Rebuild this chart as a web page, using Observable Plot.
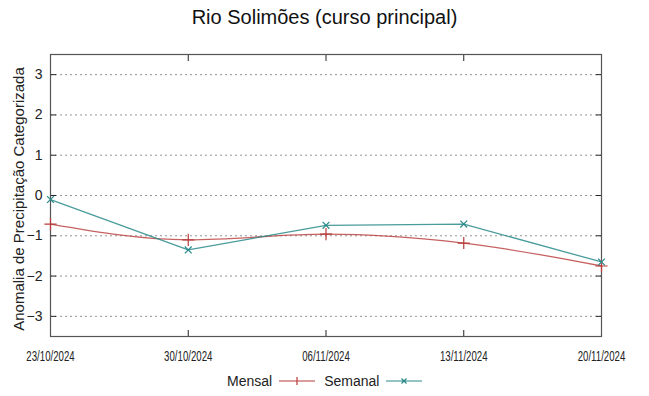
<!DOCTYPE html>
<html>
<head>
<meta charset="utf-8">
<script src="https://cdn.jsdelivr.net/npm/d3@7"></script>
<script src="https://cdn.jsdelivr.net/npm/@observablehq/plot@0.6"></script>
<style>
  body { margin: 0; background: #fff; font-family: "Liberation Sans", Arial, sans-serif; }
  #wrap { position: relative; width: 649px; height: 396px; overflow: hidden; }
  #title { position: absolute; left: 0; width: 649px; top: 6px; text-align: center; font-size: 20px; color: #111; }
  #ylab { position: absolute; left: 18px; top: 199px; font-size: 15px; color: #222; transform: translate(-50%, -50%) rotate(-90deg); white-space: nowrap; }
  #legend { position: absolute; top: 373px; left: 227px; font-size: 14px; color: #222; display: flex; align-items: center; }
  #legend svg { margin: 0 9px 0 7px; }
  #chart { position: absolute; left: 0; top: 0; }
</style>
</head>
<body>
<div id="wrap">
  <div id="chart"></div>
  <div id="title">Rio Solimões (curso principal)</div>
  <div id="ylab">Anomalia de Precipitação Categorizada</div>
  <div id="legend"></div>
</div>
<script>
const dates = ["2024-10-23", "2024-10-30", "2024-11-06", "2024-11-13", "2024-11-20"];
const mensal = [-0.71, -1.1, -0.96, -1.18, -1.75];
const semanal = [-0.1, -1.35, -0.74, -0.71, -1.65];
const yTicks = [-3, -2, -1, 0, 1, 2, 3];
const seriesNames = ["Mensal", "Semanal"];
const seriesColors = ["#b83a3a", "#2a8a8a"];

const parse = d3.utcParse("%Y-%m-%d");
const fmt = d3.utcFormat("%d/%m/%Y");
const X = dates.map(parse);
const mData = X.map((d, i) => ({date: d, v: mensal[i]}));
const sData = X.map((d, i) => ({date: d, v: semanal[i]}));
const blank = () => "";

const plot = Plot.plot({
  width: 649,
  height: 396,
  marginTop: 54,
  marginBottom: 60,
  marginLeft: 50,
  marginRight: 48,
  style: {fontFamily: "Liberation Sans, Arial, sans-serif", background: "transparent", color: "#222"},
  x: {type: "utc", domain: [X[0], X[X.length - 1]]},
  y: {domain: [-3.5, 3.5]},
  marks: [
    Plot.gridY(yTicks, {stroke: "#888", strokeOpacity: 0.9, strokeDasharray: "2,3", strokeWidth: 1}),
    Plot.axisY(yTicks, {anchor: "left", tickSize: -6, tickPadding: 14, fontSize: 14, label: null, stroke: "#222"}),
    Plot.axisY(yTicks, {anchor: "right", tickSize: -6, tickFormat: blank, label: null, stroke: "#222"}),
    Plot.axisX(X, {anchor: "bottom", tickSize: -6, tickPadding: 21, tickFormat: fmt, fontSize: 14, label: null, stroke: "#222"}),
    Plot.axisX(X, {anchor: "top", tickSize: -6, tickFormat: blank, label: null, stroke: "#222"}),
    Plot.frame({stroke: "#555", strokeWidth: 1.2}),
    Plot.line(mData, {x: "date", y: "v", stroke: seriesColors[0], strokeWidth: 1.3, strokeOpacity: 0.8, curve: "monotone-x"}),
    Plot.dot(mData, {x: "date", y: "v", symbol: "plus", r: 4, stroke: seriesColors[0], strokeWidth: 1.2}),
    Plot.line(sData, {x: "date", y: "v", stroke: seriesColors[1], strokeWidth: 1.3, strokeOpacity: 0.85}),
    Plot.dot(sData, {x: "date", y: "v", symbol: "times", r: 3.2, stroke: seriesColors[1], strokeWidth: 1.2})
  ]
});
document.getElementById("chart").appendChild(plot);
// condense the date tick labels like the reference
const labels = new Set(X.map(fmt));
plot.querySelectorAll("text").forEach(t => {
  if (!labels.has(t.textContent.trim())) return;
  t.setAttribute("font-size", "14");
  const tr = t.getAttribute("transform");
  if (tr) {
    t.setAttribute("transform", tr + " scale(0.69,1)");
  } else {
    const x = +t.getAttribute("x") || 0, y = +t.getAttribute("y") || 0;
    t.removeAttribute("x"); t.removeAttribute("y");
    t.setAttribute("transform", `translate(${x},${y}) scale(0.69,1)`);
  }
});

const legend = document.getElementById("legend");
const syms = ["M0,5 H36 M18,1 V9", "M0,5 H36 M15.5,2.5 L20.5,7.5 M20.5,2.5 L15.5,7.5"];
seriesNames.forEach((n, i) => {
  const span = document.createElement("span");
  span.textContent = n;
  legend.appendChild(span);
  const svg = document.createElementNS("http://www.w3.org/2000/svg", "svg");
  svg.setAttribute("width", 36); svg.setAttribute("height", 10);
  const p = document.createElementNS("http://www.w3.org/2000/svg", "path");
  p.setAttribute("d", syms[i]); p.setAttribute("stroke", seriesColors[i]); p.setAttribute("fill", "none"); p.setAttribute("stroke-width", 1.2);
  svg.appendChild(p);
  legend.appendChild(svg);
});
</script>
</body>
</html>
